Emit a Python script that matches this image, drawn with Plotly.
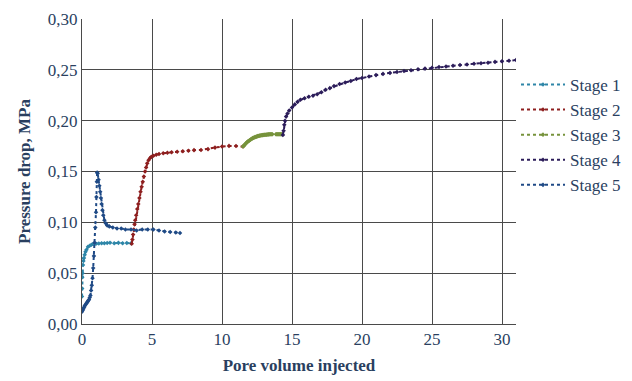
import plotly.graph_objects as go

# Stage data (pore volume injected, pressure drop MPa)
s1_x = [0.0, 0.01, 0.02, 0.04, 0.07, 0.1, 0.14, 0.19, 0.25, 0.32, 0.43, 0.55, 0.67, 0.79, 0.9, 1.0, 1.2, 1.4, 1.6, 1.8, 2.0, 2.3, 2.6, 2.9, 3.2, 3.5]
s1_y = [0.027, 0.035, 0.046, 0.05, 0.058, 0.062, 0.065, 0.068, 0.071, 0.073, 0.076, 0.077, 0.078, 0.0787, 0.079, 0.079, 0.0792, 0.0795, 0.0795, 0.0797, 0.08, 0.0795, 0.0798, 0.0795, 0.0797, 0.0795]

s2_x = [3.55, 3.6, 3.65, 3.7, 3.75, 3.8, 3.87, 3.95, 4.02, 4.1, 4.18, 4.26, 4.34, 4.42, 4.5, 4.58, 4.66, 4.75, 4.85, 4.95, 5.1, 5.3, 5.5, 5.8, 6.1, 6.4, 6.8, 7.2, 7.6, 8.0, 8.5, 9.0, 9.5, 10.0, 10.5, 11.0, 11.5]
s2_y = [0.079, 0.083, 0.088, 0.093, 0.098, 0.102, 0.107, 0.113, 0.118, 0.124, 0.13, 0.135, 0.14, 0.145, 0.15, 0.154, 0.158, 0.161, 0.163, 0.1645, 0.1655, 0.1665, 0.1672, 0.168, 0.1685, 0.169, 0.1695, 0.17, 0.1705, 0.171, 0.1712, 0.172, 0.1735, 0.1745, 0.1752, 0.175, 0.1745]

s3_x = [11.5, 11.55, 11.6, 11.65, 11.7, 11.75, 11.8, 11.85, 11.9, 11.95, 12.0, 12.05, 12.1, 12.15, 12.2, 12.25, 12.3, 12.35, 12.4, 12.45, 12.5, 12.55, 12.6, 12.65, 12.7, 12.75, 12.8, 12.85, 12.9, 12.95, 13.0, 13.05, 13.1, 13.15, 13.2, 13.25, 13.3, 13.35, 13.4, 13.45, 13.5, 13.55, 13.6, 13.85, 13.9, 13.95, 14.0, 14.05, 14.1, 14.15, 14.2, 14.25, 14.3]
s3_y = [0.1745, 0.1752, 0.176, 0.1768, 0.1775, 0.1782, 0.179, 0.1795, 0.18, 0.1805, 0.181, 0.1815, 0.182, 0.1824, 0.1828, 0.1832, 0.1835, 0.1838, 0.184, 0.1843, 0.1845, 0.1848, 0.185, 0.1852, 0.1853, 0.1855, 0.1856, 0.1857, 0.1858, 0.1859, 0.186, 0.1861, 0.1862, 0.1862, 0.1863, 0.1864, 0.1865, 0.1865, 0.1866, 0.1866, 0.1866, 0.1866, 0.1866, 0.1866, 0.1866, 0.1866, 0.1866, 0.1866, 0.1866, 0.1866, 0.1866, 0.1866, 0.1866]

s4_x = [14.35, 14.4, 14.45, 14.5, 14.58, 14.68, 14.8, 15.0, 15.2, 15.4, 15.6, 15.9, 16.2, 16.5, 16.8, 17.1, 17.4, 17.7, 18.0, 18.4, 18.8, 19.2, 19.6, 20.0, 20.5, 21.0, 21.5, 22.0, 22.5, 23.0, 23.5, 24.0, 24.5, 25.0, 25.5, 26.0, 26.5, 27.0, 27.5, 28.0, 28.5, 29.0, 29.5, 30.0, 30.5, 31.0, 31.5]
s4_y = [0.186, 0.19, 0.196, 0.2, 0.204, 0.207, 0.21, 0.213, 0.216, 0.2185, 0.2205, 0.222, 0.2235, 0.2245, 0.226, 0.228, 0.2305, 0.232, 0.234, 0.236, 0.2375, 0.239, 0.241, 0.242, 0.2435, 0.2448, 0.246, 0.247, 0.2478, 0.2488, 0.2495, 0.2505, 0.2512, 0.252, 0.2527, 0.2533, 0.254, 0.2547, 0.2553, 0.256, 0.2565, 0.257, 0.2578, 0.2585, 0.259, 0.2596, 0.26]

s5_x = [0.0, 0.05, 0.1, 0.15, 0.2, 0.25, 0.3, 0.35, 0.4, 0.45, 0.5, 0.55, 0.6, 0.65, 0.7, 0.75, 0.8, 0.85, 0.9, 0.95, 1.0, 1.03, 1.06, 1.08, 1.12, 1.18, 1.24, 1.3, 1.35, 1.4, 1.46, 1.52, 1.6, 1.7, 1.8, 1.95, 2.2, 2.5, 2.8, 3.1, 3.5, 3.9, 4.3, 4.7, 5.1, 5.5, 5.9, 6.3, 6.7, 7.0]
s5_y = [0.012, 0.0135, 0.015, 0.0165, 0.018, 0.019, 0.02, 0.021, 0.022, 0.023, 0.024, 0.026, 0.028, 0.033, 0.038, 0.045, 0.055, 0.067, 0.08, 0.095, 0.11, 0.125, 0.14, 0.149, 0.148, 0.142, 0.136, 0.13, 0.124, 0.118, 0.112, 0.107, 0.102, 0.099, 0.097, 0.096, 0.095, 0.094, 0.094, 0.093, 0.093, 0.092, 0.093, 0.093, 0.093, 0.092, 0.091, 0.0905, 0.09, 0.0895]

names = ["Stage 1", "Stage 2", "Stage 3", "Stage 4", "Stage 5"]
colors = ["#2E86A8", "#8E1F1F", "#77933C", "#2C1D5A", "#1F4A86"]
series = [(s1_x, s1_y), (s2_x, s2_y), (s3_x, s3_y), (s4_x, s4_y), (s5_x, s5_y)]

fig = go.Figure()
for i, (name, color, (xs, ys)) in enumerate(zip(names, colors, series)):
    fig.add_trace(go.Scatter(
        x=xs, y=ys, name=name, mode="lines+markers",
        line=dict(color=color, width=2, dash="dot"),
        marker=dict(color=color, symbol="diamond", size=3.5),
    ))

FF = "Liberation Serif"
fig.update_layout(
    width=632, height=381,
    margin=dict(l=82, r=116, t=19, b=57, autoexpand=False),
    paper_bgcolor="white", plot_bgcolor="white",
    separators=", ",
    showlegend=True,
    legend=dict(x=1.0, xanchor="left", y=0.62, yanchor="middle",
                font=dict(family=FF, size=17),
                itemwidth=44, tracegroupgap=6),
    xaxis=dict(range=[0, 31], tickvals=[0, 5, 10, 15, 20, 25, 30],
               showgrid=True, gridcolor="#4a4a4a", gridwidth=1,
               zeroline=False, showline=True, linecolor="#4a4a4a", linewidth=1,
               tickfont=dict(family=FF, size=17),
               title=dict(text="<b>Pore volume injected</b>", font=dict(family=FF, size=17), standoff=10)),
    yaxis=dict(range=[0, 0.3], tickvals=[0, 0.05, 0.1, 0.15, 0.2, 0.25, 0.3],
               tickformat=".2f",
               showgrid=True, gridcolor="#4a4a4a", gridwidth=1,
               zeroline=False, showline=True, linecolor="#4a4a4a", linewidth=1,
               tickfont=dict(family=FF, size=17),
               title=dict(text="<b>Pressure drop, MPa</b>", font=dict(family=FF, size=17), standoff=12)),
)

fig.write_html("out.html")
